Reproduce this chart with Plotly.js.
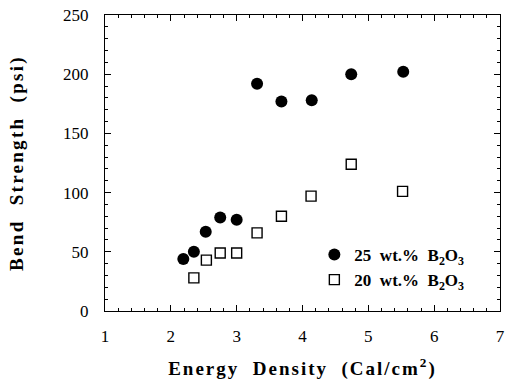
<!DOCTYPE html>
<html>
<head>
<meta charset="utf-8">
<script src="https://cdn.plot.ly/plotly-3.0.1.min.js"></script>
<style>
html,body{margin:0;padding:0;background:#fff;}
#chart{width:507px;height:388px;}
#chart .xtitle{letter-spacing:2.0px;}
#chart .ytitle{letter-spacing:2.3px;}
</style>
</head>
<body>
<div id="chart"></div>
<script>
// 25 wt.% B2O3 (filled circles)
const energy25 = [2.19, 2.35, 2.53, 2.75, 3.0, 3.31, 3.68, 4.14, 4.74, 5.53];
const strength25 = [44, 50, 67, 79, 77, 192, 177, 178, 200, 202];
// 20 wt.% B2O3 (open squares)
const energy20 = [2.35, 2.54, 2.75, 3.0, 3.31, 3.68, 4.13, 4.74, 5.52];
const strength20 = [28, 43, 49, 49, 66, 80, 97, 124, 101];

const xTicks = [1, 2, 3, 4, 5, 6, 7];
const yTicks = [0, 50, 100, 150, 200, 250];
const seriesNames = ['25&nbsp;&nbsp;wt.%&nbsp;&nbsp;B<sub>2</sub>O<sub>3</sub>', '20&nbsp;&nbsp;wt.%&nbsp;&nbsp;B<sub>2</sub>O<sub>3</sub>'];

const serif = "'Liberation Serif', 'Times New Roman', serif";

const traces = [
  {
    x: energy25, y: strength25, mode: 'markers', type: 'scatter', name: seriesNames[0],
    marker: {symbol: 'circle', size: 12, color: '#000'}
  },
  {
    x: energy20, y: strength20, mode: 'markers', type: 'scatter', name: seriesNames[1],
    marker: {symbol: 'square-open', size: 10, color: '#000', line: {width: 1.4, color: '#000'}}
  }
];

const layout = {
  width: 507, height: 388,
  margin: {l: 105, r: 7, t: 15, b: 77},
  paper_bgcolor: '#fff', plot_bgcolor: '#fff',
  font: {family: serif, size: 16, color: '#000'},
  showlegend: true,
  legend: {
    x: 0.53, y: 0.25, xanchor: 'left', yanchor: 'top',
    bgcolor: 'rgba(0,0,0,0)', borderwidth: 0,
    font: {family: serif, size: 17, color: '#000', weight: 'bold'},
    tracegroupgap: 0
  },
  xaxis: {
    range: [1, 7], tickmode: 'array', tickvals: xTicks, ticktext: xTicks.map(String),
    showgrid: false, zeroline: false, showline: true, linecolor: '#000', linewidth: 1,
    mirror: 'allticks', ticks: 'inside', ticklen: 6, tickwidth: 1, tickcolor: '#000',
    tickfont: {family: serif, size: 17, color: '#000'},
    ticklabelstandoff: 10,
    minor: {dtick: 0.2, ticklen: 3, tickcolor: '#000', ticks: 'inside', showgrid: false},
    title: {text: 'Energy&nbsp;&nbsp;Density&nbsp;&nbsp;(Cal/cm<sup>2</sup>)', standoff: 16,
            font: {family: serif, size: 19, color: '#000', weight: 'bold'}}
  },
  yaxis: {
    range: [0, 250], tickmode: 'array', tickvals: yTicks, ticktext: yTicks.map(String),
    showgrid: false, zeroline: false, showline: true, linecolor: '#000', linewidth: 1,
    mirror: 'allticks', ticks: 'inside', ticklen: 6, tickwidth: 1, tickcolor: '#000',
    tickfont: {family: serif, size: 17, color: '#000'},
    ticklabelstandoff: 12,
    minor: {dtick: 10, ticklen: 3, tickcolor: '#000', ticks: 'inside', showgrid: false},
    title: {text: 'Bend&nbsp;&nbsp;Strength&nbsp;&nbsp;(psi)', standoff: 34,
            font: {family: serif, size: 19, color: '#000', weight: 'bold'}}
  }
};

Plotly.newPlot('chart', traces, layout, {displayModeBar: false, staticPlot: true});
</script>
</body>
</html>
